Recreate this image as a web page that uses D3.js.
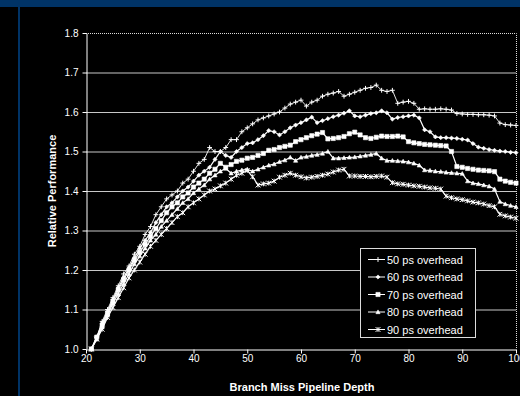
<!DOCTYPE html>
<html>
<head>
<meta charset="utf-8">
<script src="https://cdn.jsdelivr.net/npm/d3@7"></script>
<style>
  body { margin: 0; background: #000; }
  svg { display: block; font-family: "Liberation Sans", Arial, sans-serif; }
</style>
</head>
<body>
<div id="chart"></div>
<script>
// branch miss pipeline depth (x)
var depth = [21, 22, 23, 24, 25, 26, 27, 28, 29, 30,
  31, 32, 33, 34, 35, 36, 37, 38, 39, 40,
  41, 42, 43, 44, 45, 46, 47, 48, 49, 50,
  51, 52, 53, 54, 55, 56, 57, 58, 59, 60,
  61, 62, 63, 64, 65, 66, 67, 68, 69, 70,
  71, 72, 73, 74, 75, 76, 77, 78, 79, 80,
  81, 82, 83, 84, 85, 86, 87, 88, 89, 90,
  91, 92, 93, 94, 95, 96, 97, 98, 99, 100];

var ps50 = [1.00, 1.03, 1.07, 1.10, 1.13, 1.16, 1.19, 1.21, 1.24, 1.26,
  1.29, 1.31, 1.34, 1.36, 1.38, 1.39, 1.40, 1.42, 1.43, 1.45,
  1.47, 1.48, 1.51, 1.50, 1.50, 1.51, 1.53, 1.53, 1.55, 1.56,
  1.57, 1.58, 1.585, 1.59, 1.595, 1.60, 1.61, 1.62, 1.625, 1.63,
  1.615, 1.625, 1.63, 1.64, 1.645, 1.648, 1.652, 1.64, 1.645, 1.65,
  1.655, 1.66, 1.662, 1.668, 1.655, 1.652, 1.655, 1.622, 1.625, 1.627,
  1.622, 1.607, 1.608, 1.607, 1.607, 1.608, 1.607, 1.605, 1.596, 1.595,
  1.594, 1.594, 1.593, 1.593, 1.592, 1.59, 1.572, 1.568, 1.567, 1.566];

var ps60 = [1.00, 1.03, 1.065, 1.095, 1.125, 1.155, 1.18, 1.205, 1.23, 1.255,
  1.275, 1.295, 1.32, 1.34, 1.36, 1.37, 1.385, 1.40, 1.41, 1.425,
  1.44, 1.45, 1.46, 1.48, 1.50, 1.49, 1.485, 1.50, 1.51, 1.52,
  1.522, 1.53, 1.54, 1.553, 1.55, 1.542, 1.55, 1.56, 1.567, 1.573,
  1.58, 1.587, 1.573, 1.578, 1.583, 1.588, 1.592, 1.597, 1.603, 1.59,
  1.588, 1.592, 1.596, 1.598, 1.603, 1.598, 1.582, 1.586, 1.588, 1.59,
  1.592, 1.585, 1.555, 1.55, 1.537, 1.535, 1.535, 1.534, 1.533, 1.531,
  1.529, 1.52, 1.511, 1.508, 1.505, 1.503, 1.501, 1.50, 1.498, 1.497];

var ps70 = [1.00, 1.03, 1.06, 1.09, 1.12, 1.15, 1.175, 1.20, 1.225, 1.245,
  1.265, 1.285, 1.305, 1.325, 1.345, 1.36, 1.37, 1.385, 1.395, 1.41,
  1.42, 1.43, 1.445, 1.455, 1.47, 1.46, 1.467, 1.475, 1.478, 1.483,
  1.485, 1.49, 1.495, 1.503, 1.505, 1.51, 1.513, 1.516, 1.525, 1.53,
  1.535, 1.54, 1.544, 1.548, 1.532, 1.533, 1.535, 1.538, 1.545, 1.549,
  1.542, 1.535, 1.533, 1.536, 1.539, 1.538, 1.538, 1.539, 1.537, 1.525,
  1.522, 1.52, 1.518, 1.517, 1.516, 1.515, 1.514, 1.50, 1.462, 1.46,
  1.457, 1.455, 1.453, 1.452, 1.451, 1.449, 1.43, 1.425, 1.422, 1.42];

var ps80 = [1.00, 1.025, 1.055, 1.085, 1.115, 1.14, 1.165, 1.19, 1.215, 1.235,
  1.255, 1.275, 1.29, 1.31, 1.325, 1.34, 1.355, 1.37, 1.38, 1.395,
  1.405, 1.415, 1.43, 1.44, 1.45, 1.457, 1.445, 1.45, 1.453, 1.455,
  1.45, 1.455, 1.46, 1.465, 1.468, 1.474, 1.478, 1.485, 1.477, 1.485,
  1.487, 1.49, 1.492, 1.495, 1.50, 1.483, 1.483, 1.484, 1.485, 1.486,
  1.488, 1.49, 1.492, 1.495, 1.483, 1.477, 1.477, 1.476, 1.475, 1.473,
  1.47, 1.465, 1.453, 1.452, 1.45, 1.449, 1.447, 1.446, 1.445, 1.444,
  1.425, 1.42, 1.418, 1.415, 1.412, 1.405, 1.373, 1.367, 1.363, 1.36];

var ps90 = [1.00, 1.025, 1.05, 1.08, 1.105, 1.13, 1.155, 1.18, 1.20, 1.22,
  1.24, 1.26, 1.275, 1.29, 1.305, 1.32, 1.335, 1.345, 1.36, 1.37,
  1.38, 1.39, 1.40, 1.405, 1.413, 1.42, 1.43, 1.44, 1.445, 1.452,
  1.436, 1.415, 1.418, 1.42, 1.425, 1.435, 1.44, 1.445, 1.44, 1.436,
  1.433, 1.435, 1.437, 1.44, 1.443, 1.448, 1.453, 1.455, 1.438, 1.438,
  1.437, 1.437, 1.436, 1.437, 1.438, 1.435, 1.421, 1.418, 1.417, 1.415,
  1.413, 1.412, 1.41, 1.408, 1.407, 1.405, 1.387, 1.383, 1.38, 1.378,
  1.375, 1.372, 1.37, 1.367, 1.363, 1.36, 1.341, 1.337, 1.334, 1.331];

var seriesNames = ["50 ps overhead", "60 ps overhead", "70 ps overhead", "80 ps overhead", "90 ps overhead"];
var seriesValues = [ps50, ps60, ps70, ps80, ps90];
var seriesMarks = ["plus", "diamond", "square", "triangle", "asterisk"];

var xTicks = [20, 30, 40, 50, 60, 70, 80, 90, 100];
var yTicks = [1.0, 1.1, 1.2, 1.3, 1.4, 1.5, 1.6, 1.7, 1.8];

var width = 520, height = 396;

var svg = d3.select("#chart").append("svg")
  .attr("width", width)
  .attr("height", height);

svg.append("rect")
  .attr("width", width)
  .attr("height", height)
  .style("fill", "#000");

// navy frame bits
svg.append("rect")
  .attr("x", 0).attr("y", 0)
  .attr("width", width).attr("height", 7)
  .style("fill", "#003366");
svg.append("rect")
  .attr("x", 18).attr("y", 7)
  .attr("width", 2).attr("height", height - 7)
  .style("fill", "#003366");

var x = d3.scaleLinear().domain([20, 100]).range([86, 516]);
var y = d3.scaleLinear().domain([1.0, 1.8]).range([349, 33]);

// gridlines
svg.append("g")
  .selectAll("line")
  .data(yTicks.slice(1, -1))
  .enter().append("line")
  .attr("x1", x(20))
  .attr("x2", x(100))
  .attr("y1", function(d) { return y(d) + 0.5; })
  .attr("y2", function(d) { return y(d) + 0.5; })
  .style("stroke", "#c8c8c8")
  .style("stroke-width", 1);

// dotted top and right border
svg.append("path")
  .attr("d", "M" + x(20) + "," + (y(1.8) + 0.5) + "H" + (x(100) + 0.5) + "V" + y(1.0))
  .style("fill", "none")
  .style("stroke", "#ddd")
  .style("stroke-width", 1)
  .attr("stroke-dasharray", "1 1");

var yAxis = svg.append("g")
  .attr("transform", "translate(" + (x(20) + 0.5) + ",0)")
  .call(d3.axisLeft(y).tickValues(yTicks).tickFormat(d3.format(".1f")).tickSize(4).tickSizeOuter(0).tickPadding(4));

var xAxis = svg.append("g")
  .attr("transform", "translate(0," + (y(1.0) + 0.5) + ")")
  .call(d3.axisBottom(x).tickValues(xTicks).tickSize(4).tickSizeOuter(0).tickPadding(1));

[yAxis, xAxis].forEach(function(g) {
  g.select(".domain").style("stroke", "#fff");
  g.selectAll(".tick line").style("stroke", "#fff");
  g.selectAll(".tick text")
    .style("fill", "#fff")
    .style("font-size", "10px")
    .style("font-family", "'Liberation Sans', Arial, sans-serif");
});

svg.append("text")
  .attr("transform", "translate(56," + ((y(1.0) + y(1.8)) / 2) + ") rotate(-90)")
  .attr("text-anchor", "middle")
  .style("fill", "#fff")
  .style("font-size", "11px")
  .style("font-weight", "bold")
  .text("Relative Performance");

svg.append("text")
  .attr("x", 302)
  .attr("y", 391)
  .attr("text-anchor", "middle")
  .style("fill", "#fff")
  .style("font-size", "11px")
  .style("font-weight", "bold")
  .text("Branch Miss Pipeline Depth");

// markers
function markPath(type, s) {
  if (type == "plus") {
    return "M" + (-s) + ",0H" + s + "M0," + (-s) + "V" + s;
  }
  if (type == "asterisk") {
    return "M" + (-s) + "," + (-s) + "L" + s + "," + s +
      "M" + (-s) + "," + s + "L" + s + "," + (-s) +
      "M0," + (-s) + "V" + s;
  }
  if (type == "diamond") {
    return "M0," + (-s) + "L" + s + ",0L0," + s + "L" + (-s) + ",0Z";
  }
  if (type == "square") {
    return "M" + (-s) + "," + (-s) + "H" + s + "V" + s + "H" + (-s) + "Z";
  }
  // triangle
  return "M0," + (-s) + "L" + s + "," + (s * 0.8) + "H" + (-s) + "Z";
}

var line = d3.line()
  .x(function(d) { return x(d[0]); })
  .y(function(d) { return y(d[1]); });

var plot = svg.append("g");

seriesValues.forEach(function(vals, i) {
  var pts = depth.map(function(d, k) { return [d, vals[k]]; });
  var g = plot.append("g");

  g.append("path")
    .datum(pts)
    .attr("d", line)
    .style("fill", "none")
    .style("stroke", "#fff")
    .style("stroke-width", i == 0 ? 0.9 : 1.2);

  var type = seriesMarks[i];
  var stroked = (type == "plus" || type == "asterisk");

  g.selectAll("path.m")
    .data(pts)
    .enter().append("path")
    .attr("class", "m")
    .attr("transform", function(d) { return "translate(" + x(d[0]) + "," + y(d[1]) + ")"; })
    .attr("d", markPath(type, stroked ? 2.4 : 2.1))
    .style("fill", stroked ? "none" : "#fff")
    .style("stroke", "#fff")
    .style("stroke-width", stroked ? 1 : 0.6);
});

// legend
var legend = svg.append("g").attr("transform", "translate(360,248)");

legend.append("rect")
  .attr("x", 0.5).attr("y", 0.5)
  .attr("width", 115).attr("height", 89)
  .style("fill", "#000")
  .style("stroke", "#ddd")
  .style("stroke-width", 1);

seriesNames.forEach(function(name, i) {
  var row = legend.append("g").attr("transform", "translate(0," + (11.5 + i * 17.5) + ")");
  var type = seriesMarks[i];
  var stroked = (type == "plus" || type == "asterisk");
  row.append("line")
    .attr("x1", 8).attr("x2", 25)
    .attr("y1", 0).attr("y2", 0)
    .style("stroke", "#fff")
    .style("stroke-width", 1);
  row.append("path")
    .attr("transform", "translate(18,0)")
    .attr("d", markPath(type, stroked ? 2.4 : 2.1))
    .style("fill", stroked ? "none" : "#fff")
    .style("stroke", "#fff")
    .style("stroke-width", stroked ? 1 : 0.6);
  row.append("text")
    .attr("x", 27)
    .attr("y", 4)
    .style("fill", "#fff")
    .style("font-size", "11px")
    .text(name);
});
</script>
</body>
</html>
